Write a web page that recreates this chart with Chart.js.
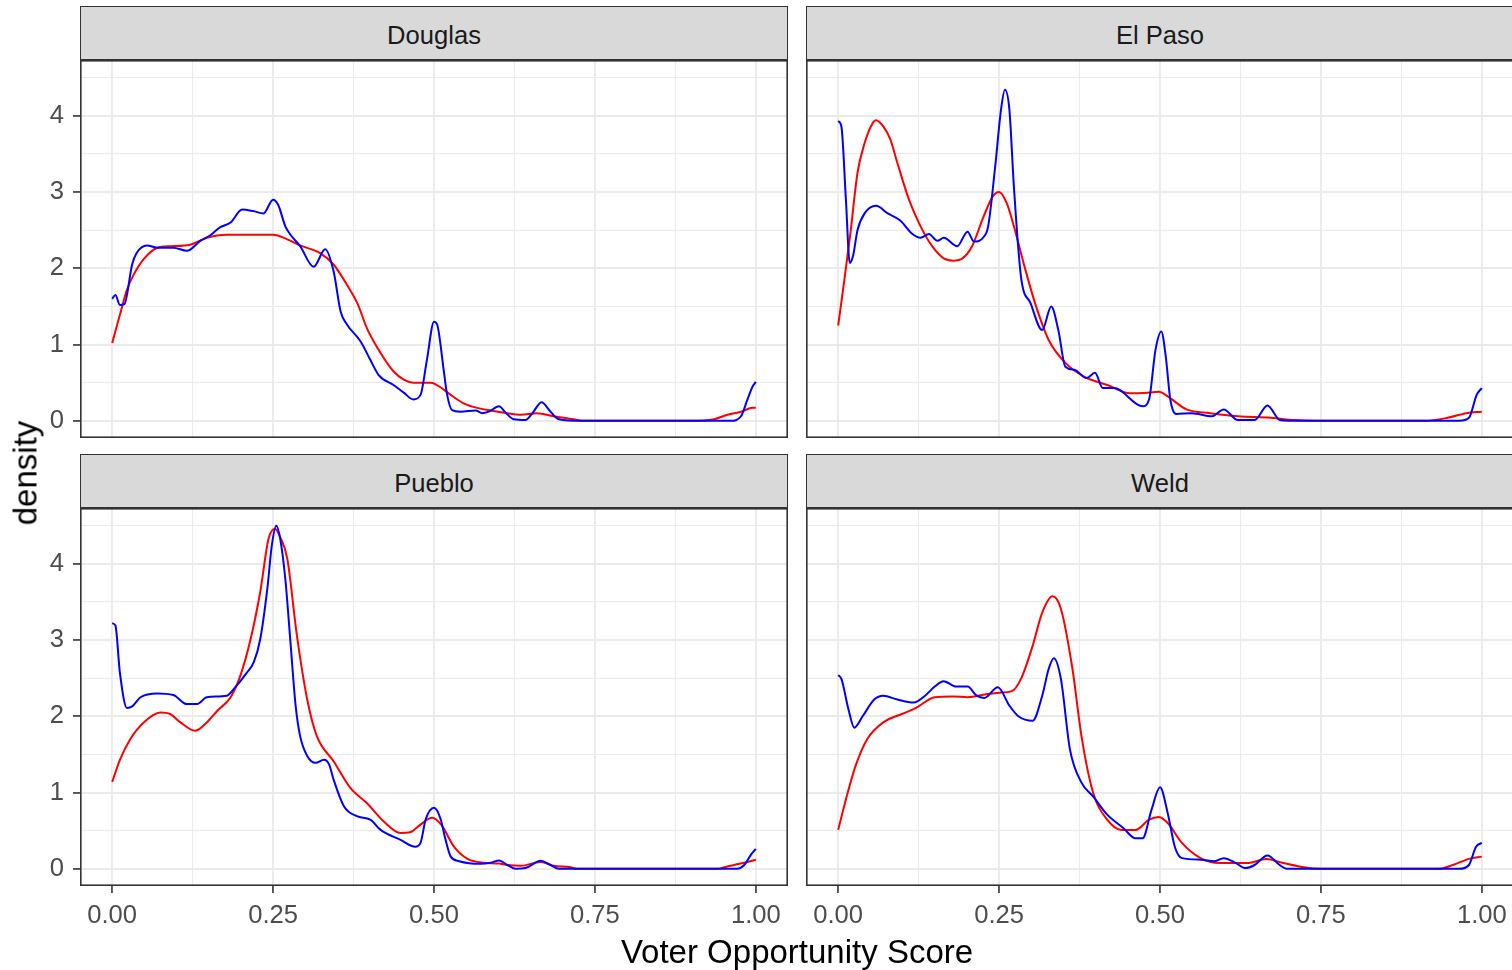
<!DOCTYPE html>
<html>
<head>
<meta charset="utf-8">
<title>Voter Opportunity Score density by county</title>
<script src="https://cdn.jsdelivr.net/npm/chart.js@4.4.1/dist/chart.umd.min.js"></script>
<style>
  body { margin: 0; background: #fff; }
  #fig { position: relative; width: 1512px; height: 970px; overflow: hidden; font-family: "Liberation Sans", Arial, sans-serif; }
  .strip { position: absolute; box-sizing: border-box; background: #d9d9d9; border: 1.5px solid #333; color: #1a1a1a; font-size: 25.6px; display: flex; align-items: center; justify-content: center; padding-top: 4px; }
  canvas { position: absolute; }
  .axtitle { position: absolute; font-size: 33px; line-height: 1; color: #000; white-space: nowrap; transform: translate(-50%, -50%); }
</style>
</head>
<body>
<div id="fig"></div>
<script>
// facet names, in panel order
const counties = ["Douglas", "El Paso", "Pueblo", "Weld"];

// axis breaks
const xTicks = [0, 0.25, 0.5, 0.75, 1];
const xMinor = [0.125, 0.375, 0.625, 0.875];
const yTicks = [0, 1, 2, 3, 4];
const yMinor = [0.5, 1.5, 2.5, 3.5, 4.5];

// density curves: [score, density]
const douglasBlue = [[0,1.60],[0.005,1.65],[0.012,1.52],[0.019,1.53],[0.031,2.05],[0.038,2.2],[0.054,2.3],[0.070,2.27],[0.095,2.27],[0.116,2.23],[0.137,2.36],[0.152,2.43],[0.168,2.54],[0.184,2.6],[0.202,2.77],[0.219,2.75],[0.235,2.72],[0.250,2.9],[0.258,2.83],[0.269,2.55],[0.277,2.44],[0.292,2.29],[0.313,2.02],[0.331,2.25],[0.344,1.96],[0.355,1.43],[0.365,1.26],[0.386,1.04],[0.401,0.80],[0.414,0.60],[0.437,0.47],[0.453,0.37],[0.468,0.28],[0.479,0.34],[0.489,0.80],[0.500,1.30],[0.505,1.26],[0.515,0.67],[0.520,0.36],[0.528,0.14],[0.541,0.12],[0.565,0.135],[0.575,0.10],[0.585,0.12],[0.601,0.19],[0.611,0.11],[0.624,0.02],[0.642,0.01],[0.653,0.10],[0.667,0.245],[0.681,0.12],[0.694,0.02],[0.728,0],[0.961,0],[0.977,0.06],[0.987,0.28],[0.995,0.45],[1,0.51]];
const douglasRed = [[0,1.02],[0.012,1.39],[0.023,1.72],[0.033,1.91],[0.049,2.12],[0.070,2.27],[0.090,2.29],[0.121,2.31],[0.147,2.40],[0.178,2.44],[0.250,2.44],[0.272,2.38],[0.292,2.30],[0.323,2.20],[0.344,2.05],[0.365,1.78],[0.381,1.54],[0.396,1.21],[0.417,0.89],[0.437,0.65],[0.453,0.54],[0.468,0.50],[0.495,0.50],[0.510,0.44],[0.526,0.34],[0.546,0.23],[0.567,0.17],[0.588,0.135],[0.614,0.10],[0.635,0.08],[0.660,0.10],[0.686,0.06],[0.717,0.02],[0.733,0],[0.900,0],[0.935,0.02],[0.956,0.08],[0.977,0.12],[0.995,0.17],[1,0.17]];

const elPasoBlue = [[0,3.93],[0.005,3.86],[0.012,2.90],[0.018,2.07],[0.023,2.16],[0.030,2.50],[0.041,2.72],[0.059,2.82],[0.077,2.72],[0.096,2.63],[0.114,2.46],[0.128,2.40],[0.141,2.45],[0.154,2.36],[0.164,2.40],[0.185,2.29],[0.201,2.48],[0.211,2.35],[0.226,2.41],[0.233,2.55],[0.244,3.34],[0.253,4.08],[0.259,4.34],[0.266,4.08],[0.273,3.07],[0.284,1.89],[0.299,1.54],[0.317,1.19],[0.331,1.50],[0.342,1.19],[0.353,0.71],[0.367,0.67],[0.386,0.56],[0.399,0.63],[0.411,0.43],[0.429,0.43],[0.473,0.19],[0.483,0.28],[0.493,0.93],[0.502,1.17],[0.509,0.84],[0.516,0.28],[0.525,0.09],[0.549,0.10],[0.581,0.06],[0.599,0.15],[0.621,0.01],[0.647,0.01],[0.667,0.20],[0.686,0.01],[0.700,0],[0.965,0],[0.980,0.04],[0.992,0.34],[1,0.43]];
const elPasoRed = [[0,1.25],[0.009,1.81],[0.019,2.46],[0.030,3.25],[0.041,3.64],[0.052,3.88],[0.059,3.94],[0.070,3.86],[0.081,3.69],[0.092,3.38],[0.110,2.90],[0.128,2.55],[0.146,2.29],[0.164,2.13],[0.179,2.10],[0.193,2.13],[0.208,2.29],[0.226,2.68],[0.240,2.94],[0.250,3.00],[0.262,2.85],[0.273,2.55],[0.288,2.07],[0.306,1.54],[0.327,1.06],[0.353,0.76],[0.382,0.58],[0.418,0.47],[0.454,0.36],[0.483,0.37],[0.498,0.38],[0.512,0.32],[0.541,0.15],[0.578,0.10],[0.621,0.06],[0.672,0.04],[0.708,0.01],[0.741,0],[0.911,0],[0.947,0.04],[0.976,0.10],[1,0.12]];

const puebloBlue = [[0,3.22],[0.005,3.19],[0.012,2.57],[0.023,2.11],[0.031,2.13],[0.044,2.25],[0.070,2.30],[0.095,2.28],[0.116,2.16],[0.132,2.16],[0.147,2.25],[0.178,2.27],[0.189,2.36],[0.209,2.57],[0.220,2.71],[0.230,3.01],[0.241,3.67],[0.248,4.24],[0.255,4.50],[0.261,4.33],[0.269,3.80],[0.277,2.97],[0.285,2.14],[0.292,1.74],[0.303,1.48],[0.316,1.39],[0.329,1.43],[0.337,1.37],[0.344,1.17],[0.360,0.82],[0.380,0.69],[0.401,0.645],[0.417,0.51],[0.448,0.38],[0.471,0.29],[0.479,0.34],[0.487,0.645],[0.500,0.80],[0.510,0.66],[0.518,0.38],[0.526,0.16],[0.539,0.10],[0.572,0.066],[0.588,0.08],[0.601,0.11],[0.614,0.05],[0.627,0],[0.642,0.01],[0.666,0.105],[0.681,0.05],[0.694,0],[0.971,0],[0.982,0.05],[0.992,0.18],[1,0.26]];
const puebloRed = [[0,1.14],[0.012,1.43],[0.028,1.70],[0.049,1.92],[0.075,2.05],[0.090,2.03],[0.106,1.92],[0.129,1.81],[0.147,1.92],[0.163,2.07],[0.184,2.25],[0.199,2.53],[0.215,3.01],[0.230,3.63],[0.243,4.33],[0.253,4.46],[0.261,4.35],[0.272,4.07],[0.287,3.06],[0.303,2.22],[0.318,1.74],[0.344,1.41],[0.370,1.06],[0.396,0.86],[0.422,0.62],[0.448,0.47],[0.463,0.48],[0.479,0.58],[0.497,0.67],[0.512,0.57],[0.531,0.29],[0.552,0.13],[0.577,0.08],[0.601,0.07],[0.614,0.05],[0.635,0.04],[0.666,0.09],[0.686,0.04],[0.712,0.02],[0.722,0],[0.940,0],[0.951,0.02],[0.966,0.05],[0.982,0.08],[1,0.12]];

const weldBlue = [[0,2.54],[0.005,2.49],[0.016,2.09],[0.025,1.85],[0.038,2.00],[0.056,2.22],[0.070,2.27],[0.092,2.22],[0.117,2.18],[0.135,2.27],[0.150,2.39],[0.164,2.46],[0.183,2.39],[0.201,2.39],[0.215,2.27],[0.227,2.24],[0.248,2.38],[0.266,2.14],[0.280,2.00],[0.302,1.94],[0.317,2.27],[0.327,2.62],[0.335,2.76],[0.346,2.49],[0.360,1.57],[0.378,1.13],[0.396,0.95],[0.418,0.71],[0.443,0.535],[0.462,0.40],[0.473,0.40],[0.487,0.78],[0.500,1.07],[0.512,0.73],[0.523,0.29],[0.534,0.14],[0.563,0.12],[0.585,0.10],[0.599,0.14],[0.618,0.075],[0.632,0.01],[0.647,0.05],[0.667,0.175],[0.686,0.05],[0.697,0],[0.965,0],[0.980,0.05],[0.991,0.29],[1,0.34]];
const weldRed = [[0,0.51],[0.012,0.91],[0.027,1.35],[0.045,1.70],[0.070,1.92],[0.099,2.03],[0.121,2.11],[0.150,2.25],[0.179,2.26],[0.201,2.25],[0.230,2.29],[0.251,2.31],[0.270,2.33],[0.284,2.49],[0.302,2.92],[0.317,3.36],[0.333,3.575],[0.346,3.41],[0.364,2.62],[0.378,1.74],[0.396,1.00],[0.418,0.645],[0.440,0.51],[0.462,0.51],[0.483,0.645],[0.498,0.68],[0.512,0.60],[0.534,0.34],[0.563,0.14],[0.592,0.075],[0.636,0.075],[0.665,0.13],[0.690,0.08],[0.723,0.02],[0.750,0],[0.933,0],[0.955,0.05],[0.980,0.13],[1,0.16]];

const blueSeries = [douglasBlue, elPasoBlue, puebloBlue, weldBlue];
const redSeries = [douglasRed, elPasoRed, puebloRed, weldRed];

// panel geometry (pixels)
const PANEL_W = 708, PANEL_H = 378, STRIP_H = 54, YAXIS_W = 80, XAXIS_H = 50;
const panelPos = [
  { left: 80, top: 60, showY: true, showX: false },
  { left: 806, top: 60, showY: false, showX: false },
  { left: 80, top: 508, showY: true, showX: true },
  { left: 806, top: 508, showY: false, showX: true }
];

Chart.defaults.font.family = '"Liberation Sans", Arial, sans-serif';

const fig = document.getElementById("fig");

const panelBorder = {
  id: "panelBorder",
  afterDraw(chart) {
    const a = chart.chartArea;
    const c = chart.ctx;
    c.save();
    c.strokeStyle = "#333333";
    c.lineWidth = 1.6;
    c.strokeRect(a.left + 0.8, a.top + 0.8, a.width - 1.6, a.height - 1.6);
    c.restore();
  }
};

function noPad(scale) {
  scale.paddingTop = 0; scale.paddingBottom = 0;
  scale.paddingLeft = 0; scale.paddingRight = 0;
}

function tickVal(ctx) {
  return ctx.tick ? ctx.tick.value : NaN;
}

counties.forEach(function (name, i) {
  const p = panelPos[i];

  const strip = document.createElement("div");
  strip.className = "strip";
  strip.style.left = p.left + "px";
  strip.style.top = (p.top - STRIP_H) + "px";
  strip.style.width = PANEL_W + "px";
  strip.style.height = STRIP_H + "px";
  strip.textContent = name;
  fig.appendChild(strip);

  const cv = document.createElement("canvas");
  const w = PANEL_W + (p.showY ? YAXIS_W : 0);
  const h = PANEL_H + (p.showX ? XAXIS_H : 0);
  cv.width = w; cv.height = h;
  cv.style.width = w + "px"; cv.style.height = h + "px";
  cv.style.left = (p.showY ? p.left - YAXIS_W : p.left) + "px";
  cv.style.top = p.top + "px";
  fig.appendChild(cv);

  new Chart(cv, {
    type: "line",
    data: {
      datasets: [
        {
          label: "blue",
          data: blueSeries[i].map(d => ({ x: d[0], y: d[1] })),
          borderColor: "#0000ff",
          borderWidth: 2,
          pointRadius: 0,
          fill: false,
          cubicInterpolationMode: "monotone"
        },
        {
          label: "red",
          data: redSeries[i].map(d => ({ x: d[0], y: d[1] })),
          borderColor: "#ff0000",
          borderWidth: 2,
          pointRadius: 0,
          fill: false,
          cubicInterpolationMode: "monotone"
        }
      ]
    },
    options: {
      responsive: false,
      animation: false,
      devicePixelRatio: 1,
      layout: { padding: 0 },
      plugins: { legend: { display: false }, tooltip: { enabled: false } },
      scales: {
        x: {
          type: "linear",
          min: -0.05,
          max: 1.05,
          afterBuildTicks: s => { s.ticks = xTicks.concat(xMinor).sort((a, b) => a - b).map(v => ({ value: v })); },
          afterFit: s => { s.height = p.showX ? XAXIS_H : 0; noPad(s); },
          border: { display: false },
          grid: {
            color: "#ebebeb",
            lineWidth: ctx => xTicks.includes(tickVal(ctx)) ? 1.9 : 1,
            drawTicks: p.showX,
            tickLength: 7,
            tickWidth: 1.6,
            tickColor: ctx => xTicks.includes(tickVal(ctx)) ? "#333333" : "rgba(0,0,0,0)"
          },
          ticks: {
            display: p.showX,
            autoSkip: false,
            maxRotation: 0,
            minRotation: 0,
            padding: 8,
            color: "#4d4d4d",
            font: { size: 25.6 },
            callback: v => xTicks.includes(v) ? v.toFixed(2) : ""
          }
        },
        y: {
          type: "linear",
          min: -0.2253,
          max: 4.7313,
          afterBuildTicks: s => { s.ticks = yTicks.concat(yMinor).sort((a, b) => a - b).map(v => ({ value: v })); },
          afterFit: s => { s.width = p.showY ? YAXIS_W : 0; noPad(s); },
          border: { display: false },
          grid: {
            color: "#ebebeb",
            lineWidth: ctx => yTicks.includes(tickVal(ctx)) ? 1.9 : 1,
            drawTicks: p.showY,
            tickLength: 7,
            tickWidth: 1.6,
            tickColor: ctx => yTicks.includes(tickVal(ctx)) ? "#333333" : "rgba(0,0,0,0)"
          },
          ticks: {
            display: p.showY,
            autoSkip: false,
            padding: 9,
            color: "#4d4d4d",
            font: { size: 25.6 },
            callback: v => yTicks.includes(v) ? String(v) : ""
          }
        }
      }
    },
    plugins: [panelBorder]
  });
});

const xTitle = document.createElement("div");
xTitle.className = "axtitle";
xTitle.style.left = "797px";
xTitle.style.top = "951px";
xTitle.textContent = "Voter Opportunity Score";
fig.appendChild(xTitle);

const yTitle = document.createElement("div");
yTitle.className = "axtitle";
yTitle.style.left = "25px";
yTitle.style.top = "473px";
yTitle.style.transform = "translate(-50%, -50%) rotate(-90deg)";
yTitle.textContent = "density";
fig.appendChild(yTitle);
</script>
</body>
</html>
